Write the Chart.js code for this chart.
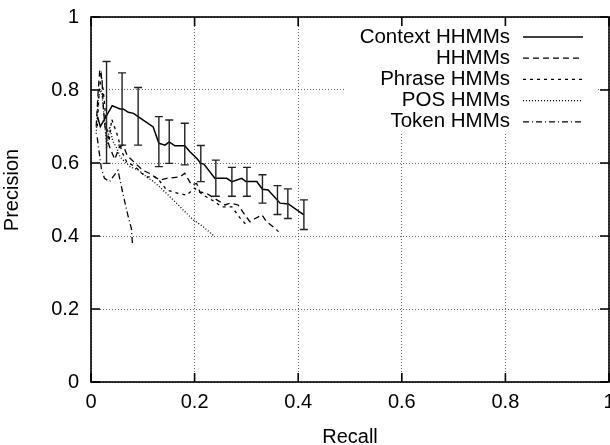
<!DOCTYPE html>
<html>
<head>
<meta charset="utf-8">
<script src="https://cdn.jsdelivr.net/npm/chart.js@4"></script>
<style>
  html, body { margin: 0; padding: 0; background: #fff; }
</style>
</head>
<body>
<canvas id="prChart" width="610" height="445"></canvas>
<script>
// series (recall, precision)
const seriesNames = ["Context HHMMs", "HHMMs", "Phrase HMMs", "POS HMMs", "Token HMMs"];

const contextRecall    = [0.013, 0.018, 0.041, 0.056, 0.062, 0.072, 0.082, 0.091, 0.120, 0.131, 0.143, 0.151, 0.162, 0.181, 0.191, 0.204, 0.212, 0.218, 0.239, 0.262, 0.272, 0.291, 0.299, 0.320, 0.331, 0.342, 0.365, 0.381, 0.411];
const contextPrecision = [0.725, 0.700, 0.757, 0.748, 0.748, 0.739, 0.736, 0.727, 0.699, 0.654, 0.649, 0.658, 0.647, 0.647, 0.631, 0.613, 0.599, 0.597, 0.558, 0.558, 0.549, 0.558, 0.549, 0.549, 0.528, 0.526, 0.490, 0.488, 0.458];

// error bars on the Context HHMMs curve
const errRecall = [0.030, 0.060, 0.091, 0.131, 0.151, 0.181, 0.212, 0.241, 0.272, 0.301, 0.331, 0.360, 0.380, 0.411];
const errLow    = [0.599, 0.649, 0.649, 0.590, 0.599, 0.595, 0.549, 0.509, 0.509, 0.509, 0.490, 0.459, 0.448, 0.418];
const errHigh   = [0.878, 0.847, 0.807, 0.727, 0.718, 0.709, 0.648, 0.608, 0.588, 0.588, 0.568, 0.538, 0.529, 0.499];

const hhmmRecall    = [0.010, 0.014, 0.017, 0.021, 0.024, 0.027, 0.032, 0.037, 0.046, 0.055, 0.062, 0.070, 0.085, 0.100, 0.114, 0.133, 0.146, 0.172, 0.181, 0.194, 0.204, 0.210, 0.223, 0.243, 0.259, 0.268, 0.284, 0.297, 0.307, 0.317, 0.330, 0.339, 0.352, 0.362];
const hhmmPrecision = [0.700, 0.800, 0.855, 0.830, 0.750, 0.700, 0.660, 0.640, 0.610, 0.645, 0.649, 0.620, 0.600, 0.580, 0.571, 0.553, 0.558, 0.562, 0.572, 0.540, 0.544, 0.521, 0.517, 0.499, 0.485, 0.490, 0.485, 0.458, 0.439, 0.448, 0.458, 0.439, 0.425, 0.412];

const phraseRecall    = [0.012, 0.016, 0.020, 0.025, 0.030, 0.035, 0.040, 0.050, 0.060, 0.069, 0.085, 0.098, 0.108, 0.123, 0.133, 0.146, 0.168, 0.185, 0.200, 0.217, 0.239, 0.252, 0.272, 0.288, 0.300];
const phrasePrecision = [0.700, 0.800, 0.840, 0.780, 0.700, 0.660, 0.720, 0.680, 0.630, 0.603, 0.590, 0.572, 0.562, 0.562, 0.550, 0.526, 0.517, 0.512, 0.531, 0.512, 0.494, 0.480, 0.480, 0.449, 0.430];

const posRecall    = [0.010, 0.014, 0.020, 0.026, 0.030, 0.036, 0.042, 0.050, 0.056, 0.075, 0.091, 0.107, 0.120, 0.136, 0.152, 0.165, 0.178, 0.198, 0.217, 0.239];
const posPrecision = [0.680, 0.780, 0.800, 0.720, 0.640, 0.700, 0.660, 0.640, 0.617, 0.590, 0.581, 0.562, 0.550, 0.530, 0.508, 0.490, 0.471, 0.444, 0.425, 0.398];

const tokenRecall    = [0.012, 0.020, 0.026, 0.036, 0.045, 0.052, 0.058, 0.065, 0.071, 0.078, 0.080];
const tokenPrecision = [0.670, 0.585, 0.558, 0.549, 0.567, 0.580, 0.540, 0.495, 0.458, 0.420, 0.380];

const axisTicks = [0, 0.2, 0.4, 0.6, 0.8, 1];

const FONT = "'Liberation Sans', Arial, Helvetica, sans-serif";

function pairs(xs, ys) {
  return xs.map((x, i) => ({ x: x, y: ys[i] }));
}

function lineSet(label, xs, ys, dash, width) {
  return {
    label: label,
    data: pairs(xs, ys),
    showLine: true,
    borderColor: "#000",
    borderWidth: width,
    borderDash: dash,
    pointRadius: 0,
    fill: false,
    tension: 0
  };
}

const datasets = [
  lineSet(seriesNames[0], contextRecall, contextPrecision, [], 1.5),
  lineSet(seriesNames[1], hhmmRecall, hhmmPrecision, [6, 4], 1.3),
  lineSet(seriesNames[2], phraseRecall, phrasePrecision, [3, 4], 1.3),
  lineSet(seriesNames[3], posRecall, posPrecision, [1, 2], 1.3),
  lineSet(seriesNames[4], tokenRecall, tokenPrecision, [6, 3, 1, 3], 1.3)
];

// white box under the key, hides grid like gnuplot does
const keyBackground = {
  id: "keyBackground",
  beforeDatasetsDraw(chart) {
    const ctx = chart.ctx;
    ctx.save();
    ctx.fillStyle = "#fff";
    ctx.fillRect(345, 20, 252, 113);
    ctx.restore();
  }
};

const errorBars = {
  id: "errorBars",
  afterDatasetsDraw(chart) {
    const ctx = chart.ctx;
    const xs = chart.scales.x, ys = chart.scales.y;
    ctx.save();
    ctx.strokeStyle = "#222";
    ctx.lineWidth = 1.4;
    errRecall.forEach((r, i) => {
      const px = xs.getPixelForValue(r);
      const top = ys.getPixelForValue(errHigh[i]);
      const bot = ys.getPixelForValue(errLow[i]);
      ctx.beginPath();
      ctx.moveTo(px, top); ctx.lineTo(px, bot);
      ctx.moveTo(px - 4, top); ctx.lineTo(px + 4, top);
      ctx.moveTo(px - 4, bot); ctx.lineTo(px + 4, bot);
      ctx.stroke();
    });
    ctx.restore();
  }
};

// frame, inward ticks on all sides, key and axis titles
const frameAndKey = {
  id: "frameAndKey",
  afterDraw(chart) {
    const ctx = chart.ctx;
    const a = chart.chartArea;
    const xs = chart.scales.x, ys = chart.scales.y;
    const tl = 9;
    ctx.save();
    ctx.strokeStyle = "#000";
    ctx.lineWidth = 1.6;
    ctx.setLineDash([]);
    ctx.strokeRect(a.left, a.top, a.right - a.left, a.bottom - a.top);
    ctx.beginPath();
    axisTicks.forEach(v => {
      const px = xs.getPixelForValue(v);
      ctx.moveTo(px, a.bottom); ctx.lineTo(px, a.bottom - tl);
      ctx.moveTo(px, a.top); ctx.lineTo(px, a.top + tl);
      const py = ys.getPixelForValue(v);
      ctx.moveTo(a.left, py); ctx.lineTo(a.left + tl, py);
      ctx.moveTo(a.right, py); ctx.lineTo(a.right - tl, py);
    });
    ctx.stroke();

    // key
    ctx.font = "20.5px " + FONT;
    ctx.fillStyle = "#000";
    ctx.textAlign = "right";
    ctx.textBaseline = "middle";
    chart.data.datasets.forEach((ds, i) => {
      const y = 37 + i * 21.2;
      ctx.fillText(ds.label, 510, y);
      ctx.beginPath();
      ctx.lineWidth = ds.borderWidth;
      ctx.setLineDash(ds.borderDash);
      ctx.moveTo(523, y); ctx.lineTo(583, y);
      ctx.stroke();
    });
    ctx.setLineDash([]);

    // axis titles
    ctx.font = "20px " + FONT;
    ctx.textAlign = "center";
    ctx.fillText("Recall", (a.left + a.right) / 2, 437);
    ctx.translate(12, 190);
    ctx.rotate(-Math.PI / 2);
    ctx.fillText("Precision", 0, 0);
    ctx.restore();
  }
};

const gridStyle = {
  color: "rgba(0,0,0,0.6)",
  lineWidth: 1,
  drawTicks: false
};

const tickLabel = v => String(Math.round(v * 10) / 10);

new Chart(document.getElementById("prChart"), {
  type: "scatter",
  data: { datasets: datasets },
  options: {
    responsive: false,
    animation: false,
    devicePixelRatio: 1,
    layout: { autoPadding: false, padding: { top: 17, right: 1, left: 0, bottom: 0 } },
    plugins: { legend: { display: false }, tooltip: { enabled: false } },
    scales: {
      x: {
        type: "linear", min: 0, max: 1,
        afterFit(s) { s.height = 63; s.paddingLeft = 0; s.paddingRight = 0; },
        afterBuildTicks(s) { s.ticks = axisTicks.map(v => ({ value: v })); },
        grid: gridStyle,
        border: { display: false, dash: [1, 2] },
        ticks: { color: "#000", padding: 8, callback: tickLabel, font: { family: FONT, size: 20 } }
      },
      y: {
        type: "linear", min: 0, max: 1,
        afterFit(s) { s.width = 91; s.paddingTop = 0; s.paddingBottom = 0; },
        afterBuildTicks(s) { s.ticks = axisTicks.map(v => ({ value: v })); },
        grid: gridStyle,
        border: { display: false, dash: [1, 2] },
        ticks: { color: "#000", padding: 12, callback: tickLabel, font: { family: FONT, size: 20 } }
      }
    }
  },
  plugins: [keyBackground, errorBars, frameAndKey]
});
</script>
</body>
</html>
